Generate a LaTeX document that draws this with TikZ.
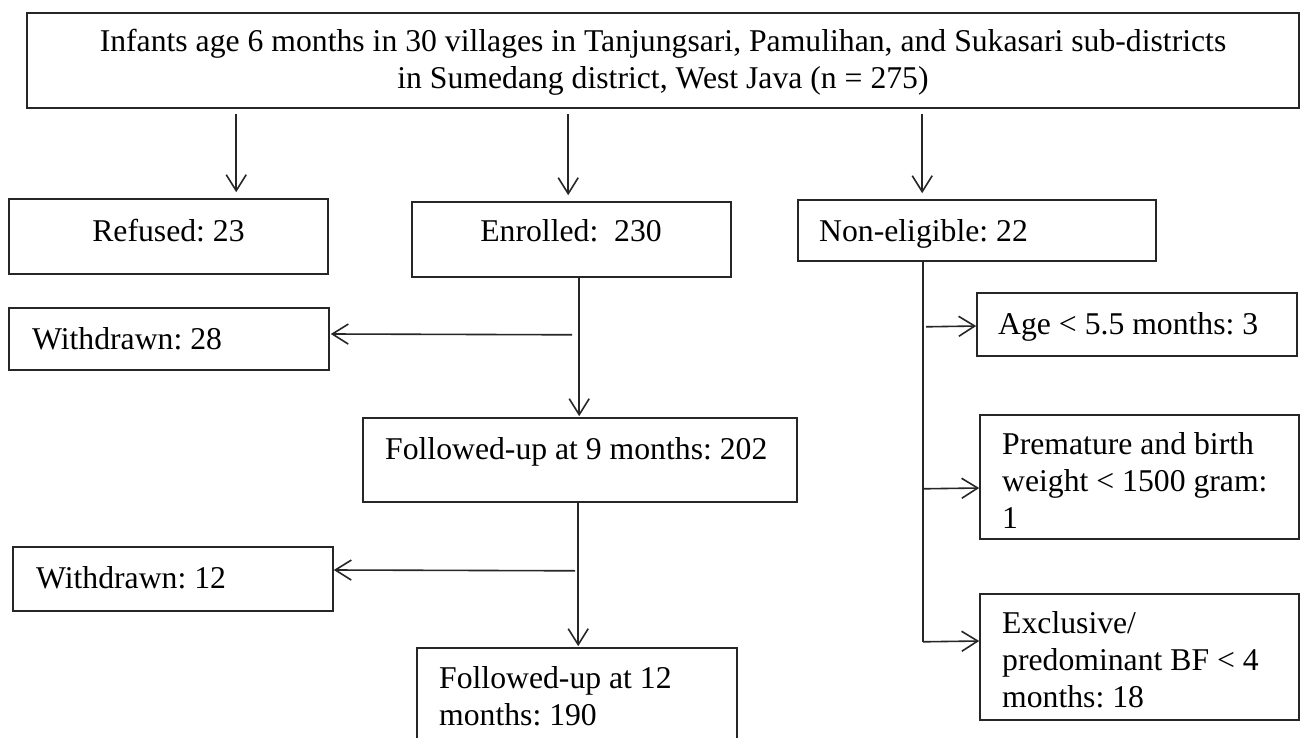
\documentclass[tikz,border=0pt]{standalone}
\usepackage{fontspec}
\setmainfont{Liberation Serif}
\usetikzlibrary{arrows.meta}
\frenchspacing
\begin{document}
\begin{tikzpicture}[x=1pt,y=-1pt,
  box/.style={draw=black!85, line width=1.6pt, inner sep=0pt},
  txt/.style={font=\fontsize{31.7}{37}\selectfont, inner sep=0pt, text=black},
  arr/.style={draw=black!85, line width=1.6pt, -{Straight Barb[length=16pt,width=20pt,line width=1.6pt]}},
  ln/.style={draw=black!85, line width=1.6pt}]
\clip (0,0) rectangle (1301,738);
\fill[white] (0,0) rectangle (1301,738);
% boxes
\node[box, minimum width=1272pt, minimum height=95pt] (top) at (663,60.5) {};
\node[box, minimum width=319pt, minimum height=75pt] (refused) at (168.5,236.5) {};
\node[box, minimum width=319pt, minimum height=75pt] (enrolled) at (571.5,239.5) {};
\node[box, minimum width=358pt, minimum height=61pt] (nonelig) at (977,230.5) {};
\node[box, minimum width=320pt, minimum height=62pt] (w28) at (169,339) {};
\node[box, minimum width=434pt, minimum height=84pt] (fu9) at (580,460) {};
\node[box, minimum width=320pt, minimum height=64pt] (w12) at (173,579) {};
\node[box, minimum width=320pt, minimum height=122pt] (fu12) at (577,709) {};
\node[box, minimum width=320pt, minimum height=63pt] (age) at (1137,324.5) {};
\node[box, minimum width=319pt, minimum height=124pt] (prem) at (1139.5,477) {};
\node[box, minimum width=319pt, minimum height=126pt] (excl) at (1139.5,657) {};
% texts (multi-line nodes: base = last line)
\node[txt, align=center, anchor=base] (topt) at (663,89) {Infants age 6 months in 30 villages in Tanjungsari, Pamulihan, and Sukasari sub-districts\\in Sumedang district, West Java (n = 275)};
\node[txt, anchor=base] (refusedt) at (168.5,241) {Refused: 23};
\node[txt, anchor=base] (enrolledt) at (571,241) {Enrolled:\ \ 230};
\node[txt, anchor=base west] (noneligt) at (819,241) {Non-eligible: 22};
\node[txt, anchor=base west] (w28t) at (32,349) {Withdrawn: 28};
\node[txt, anchor=base west] (fu9t) at (385,459) {Followed-up at 9 months: 202};
\node[txt, anchor=base west] (w12t) at (36,588) {Withdrawn: 12};
\node[txt, align=left, anchor=base west] (fu12t) at (439,725) {Followed-up at 12\\months: 190};
\node[txt, anchor=base west] (aget) at (998,334) {Age < 5.5 months: 3};
\node[txt, align=left, anchor=base west] (premt) at (1002,528) {Premature and birth\\weight < 1500 gram:\\1};
\node[txt, align=left, anchor=base west] (exclt) at (1002,707) {Exclusive/\\predominant BF < 4\\months: 18};
% connectors from the top box
\draw[arr] ([shift={(210,5)}]top.south west) -- ([shift={(228,-6)}]refused.north west);
\draw[arr] ([shift={(542,5)}]top.south west) -- ([shift={(157,-6)}]enrolled.north west);
\draw[arr] ([shift={(896,5)}]top.south west) -- ([shift={(125,-6)}]nonelig.north west);
% enrolled branch
\coordinate (j1) at ([shift={(168,57)}]enrolled.south west);
\draw[arr] ([shift={(168,0)}]enrolled.south west) -- ([shift={(217,-1)}]fu9.north west);
\draw[arr] ([shift={(-7,0)}]j1) -- ([shift={(1,-5)}]w28.east);
% fu9 branch
\coordinate (j2) at ([shift={(216,68)}]fu9.south west);
\draw[arr] ([shift={(216,0)}]fu9.south west) -- ([shift={(162,-1)}]fu12.north west);
\draw[arr] ([shift={(-3,0)}]j2) -- ([shift={(0,-9)}]w12.east);
% non-eligible branch
\coordinate (j3) at ([shift={(126,380)}]nonelig.south west);
\draw[ln] ([shift={(126,0)}]nonelig.south west) -- (j3);
\draw[arr] ([shift={(129,65)}]nonelig.south west) -- ([shift={(0,1.5)}]age.west);
\draw[arr] ([shift={(126,227)}]nonelig.south west) -- ([shift={(0,11)}]prem.west);
\draw[arr] (j3) -- ([shift={(0,-16)}]excl.west);
\end{tikzpicture}
\end{document}
